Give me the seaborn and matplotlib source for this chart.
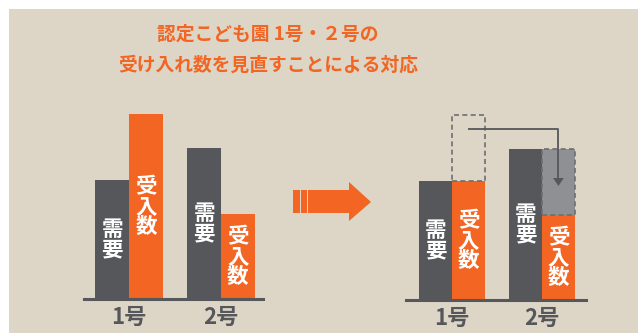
import numpy as np
import pandas as pd
import seaborn as sns
import matplotlib.pyplot as plt
from matplotlib.patches import Rectangle, Polygon

sns.set_style("white")
plt.rcParams['font.family'] = ['Noto Sans CJK JP', 'DejaVu Sans']

# data (heights, arbitrary units)
categories = ['1号', '2号']
series = ['需要', '受入数']
demand = [119, 151]
supply_before = [185, 85]
supply_after = [119, 85]
moved = [66, 66]  # surplus of 1号 that is shifted over to 2号

title = '認定こども園 1号・２号の\n受け入れ数を見直すことによる対応'

bg = '#DDD5C6'
gray = '#56575B'
orange = '#F26522'
light_gray = '#8F9094'

W, H = 638, 333
fig = plt.figure(figsize=(W / 100, H / 100), dpi=100)

# background panel in pixel coordinates
ax_bg = fig.add_axes([0, 0, 1, 1])
ax_bg.set_xlim(0, W)
ax_bg.set_ylim(H, 0)
ax_bg.axis('off')
ax_bg.add_patch(Rectangle((9, 9), W - 9, H - 9, facecolor=bg, edgecolor='none'))
ax_bg.text(268, 50, title, ha='center', va='center', fontsize=13.5,
           fontweight='bold', color=orange, linespacing=1.8)

# middle arrow
ax_bg.add_patch(Rectangle((293, 190), 7, 23, facecolor=orange, edgecolor='none'))
ax_bg.add_patch(Rectangle((301, 190), 6, 23, facecolor=orange, edgecolor='none'))
ax_bg.add_patch(Polygon([(308, 190), (349, 190), (349, 182), (371, 202),
                         (349, 221), (349, 213), (308, 213)],
                        closed=True, facecolor=orange, edgecolor='none'))


def draw_bars(rect, values, xlim):
    df = pd.DataFrame({
        '号': categories * 2,
        '種類': [series[0]] * 2 + [series[1]] * 2,
        '値': values[0] + values[1],
    })
    ax = fig.add_axes(rect)
    ax.set_facecolor('none')
    sns.barplot(data=df, x='号', y='値', hue='種類', palette=[gray, orange],
                width=0.73, saturation=1, legend=False, ax=ax,
                edgecolor='none', linewidth=0)
    ax.set_xlim(*xlim)
    ax.set_ylim(0, 200)
    ax.set_xlabel('')
    ax.set_ylabel('')
    ax.set_yticks([])
    for s in ['top', 'right', 'left']:
        ax.spines[s].set_visible(False)
    ax.spines['bottom'].set_color(gray)
    ax.spines['bottom'].set_linewidth(2.2)
    ax.tick_params(axis='x', length=0, pad=5, labelsize=16, labelcolor=gray)
    for lab in ax.get_xticklabels():
        lab.set_fontweight('bold')
    # vertical labels inside bars
    for cont, name in zip(ax.containers, series):
        txt = '\n'.join(name)
        for bar in cont:
            ax.text(bar.get_x() + bar.get_width() / 2, bar.get_height() / 2, txt,
                    ha='center', va='center', color='white', fontsize=15.5,
                    fontweight='bold', linespacing=0.95)
    return ax


ax1 = draw_bars([84 / W, 34 / H, 179 / W, 200 / H],
                [demand, supply_before], (-0.49, 1.457))
ax2 = draw_bars([406 / W, 33 / H, 180 / W, 200 / H],
                [demand, supply_after], (-0.511, 1.489))

# dashed boxes on the right chart
orange_bars = list(ax2.containers[1])
b1, b2 = orange_bars
ax2.bar(b1.get_x(), moved[0], width=b1.get_width(), bottom=supply_after[0],
        align='edge', facecolor='none', edgecolor='#6D6E71', linestyle=(0, (3, 2)),
        linewidth=1.2)
ax2.bar(b2.get_x(), moved[1], width=b2.get_width(), bottom=supply_after[1],
        align='edge', facecolor=light_gray, edgecolor='#6D6E71', linestyle=(0, (3, 2)),
        linewidth=1.2)

# arrow from the 1号 surplus to 2号
x_start = b1.get_x() + b1.get_width() / 2
x_end = b2.get_x() + b2.get_width() / 2
y_top = supply_after[0] + moved[0] - 14
y_tip = supply_after[1] + moved[1] / 2 - 4
ax2.plot([x_start, x_end, x_end], [y_top, y_top, y_tip + 6], color=gray, lw=1.3,
         solid_capstyle='butt')
ax2.add_patch(Polygon([(x_end - 0.06, y_tip + 8), (x_end + 0.06, y_tip + 8),
                       (x_end, y_tip)], closed=True, facecolor=gray, edgecolor='none'))

fig.savefig('out.png', dpi=100, facecolor='white')
